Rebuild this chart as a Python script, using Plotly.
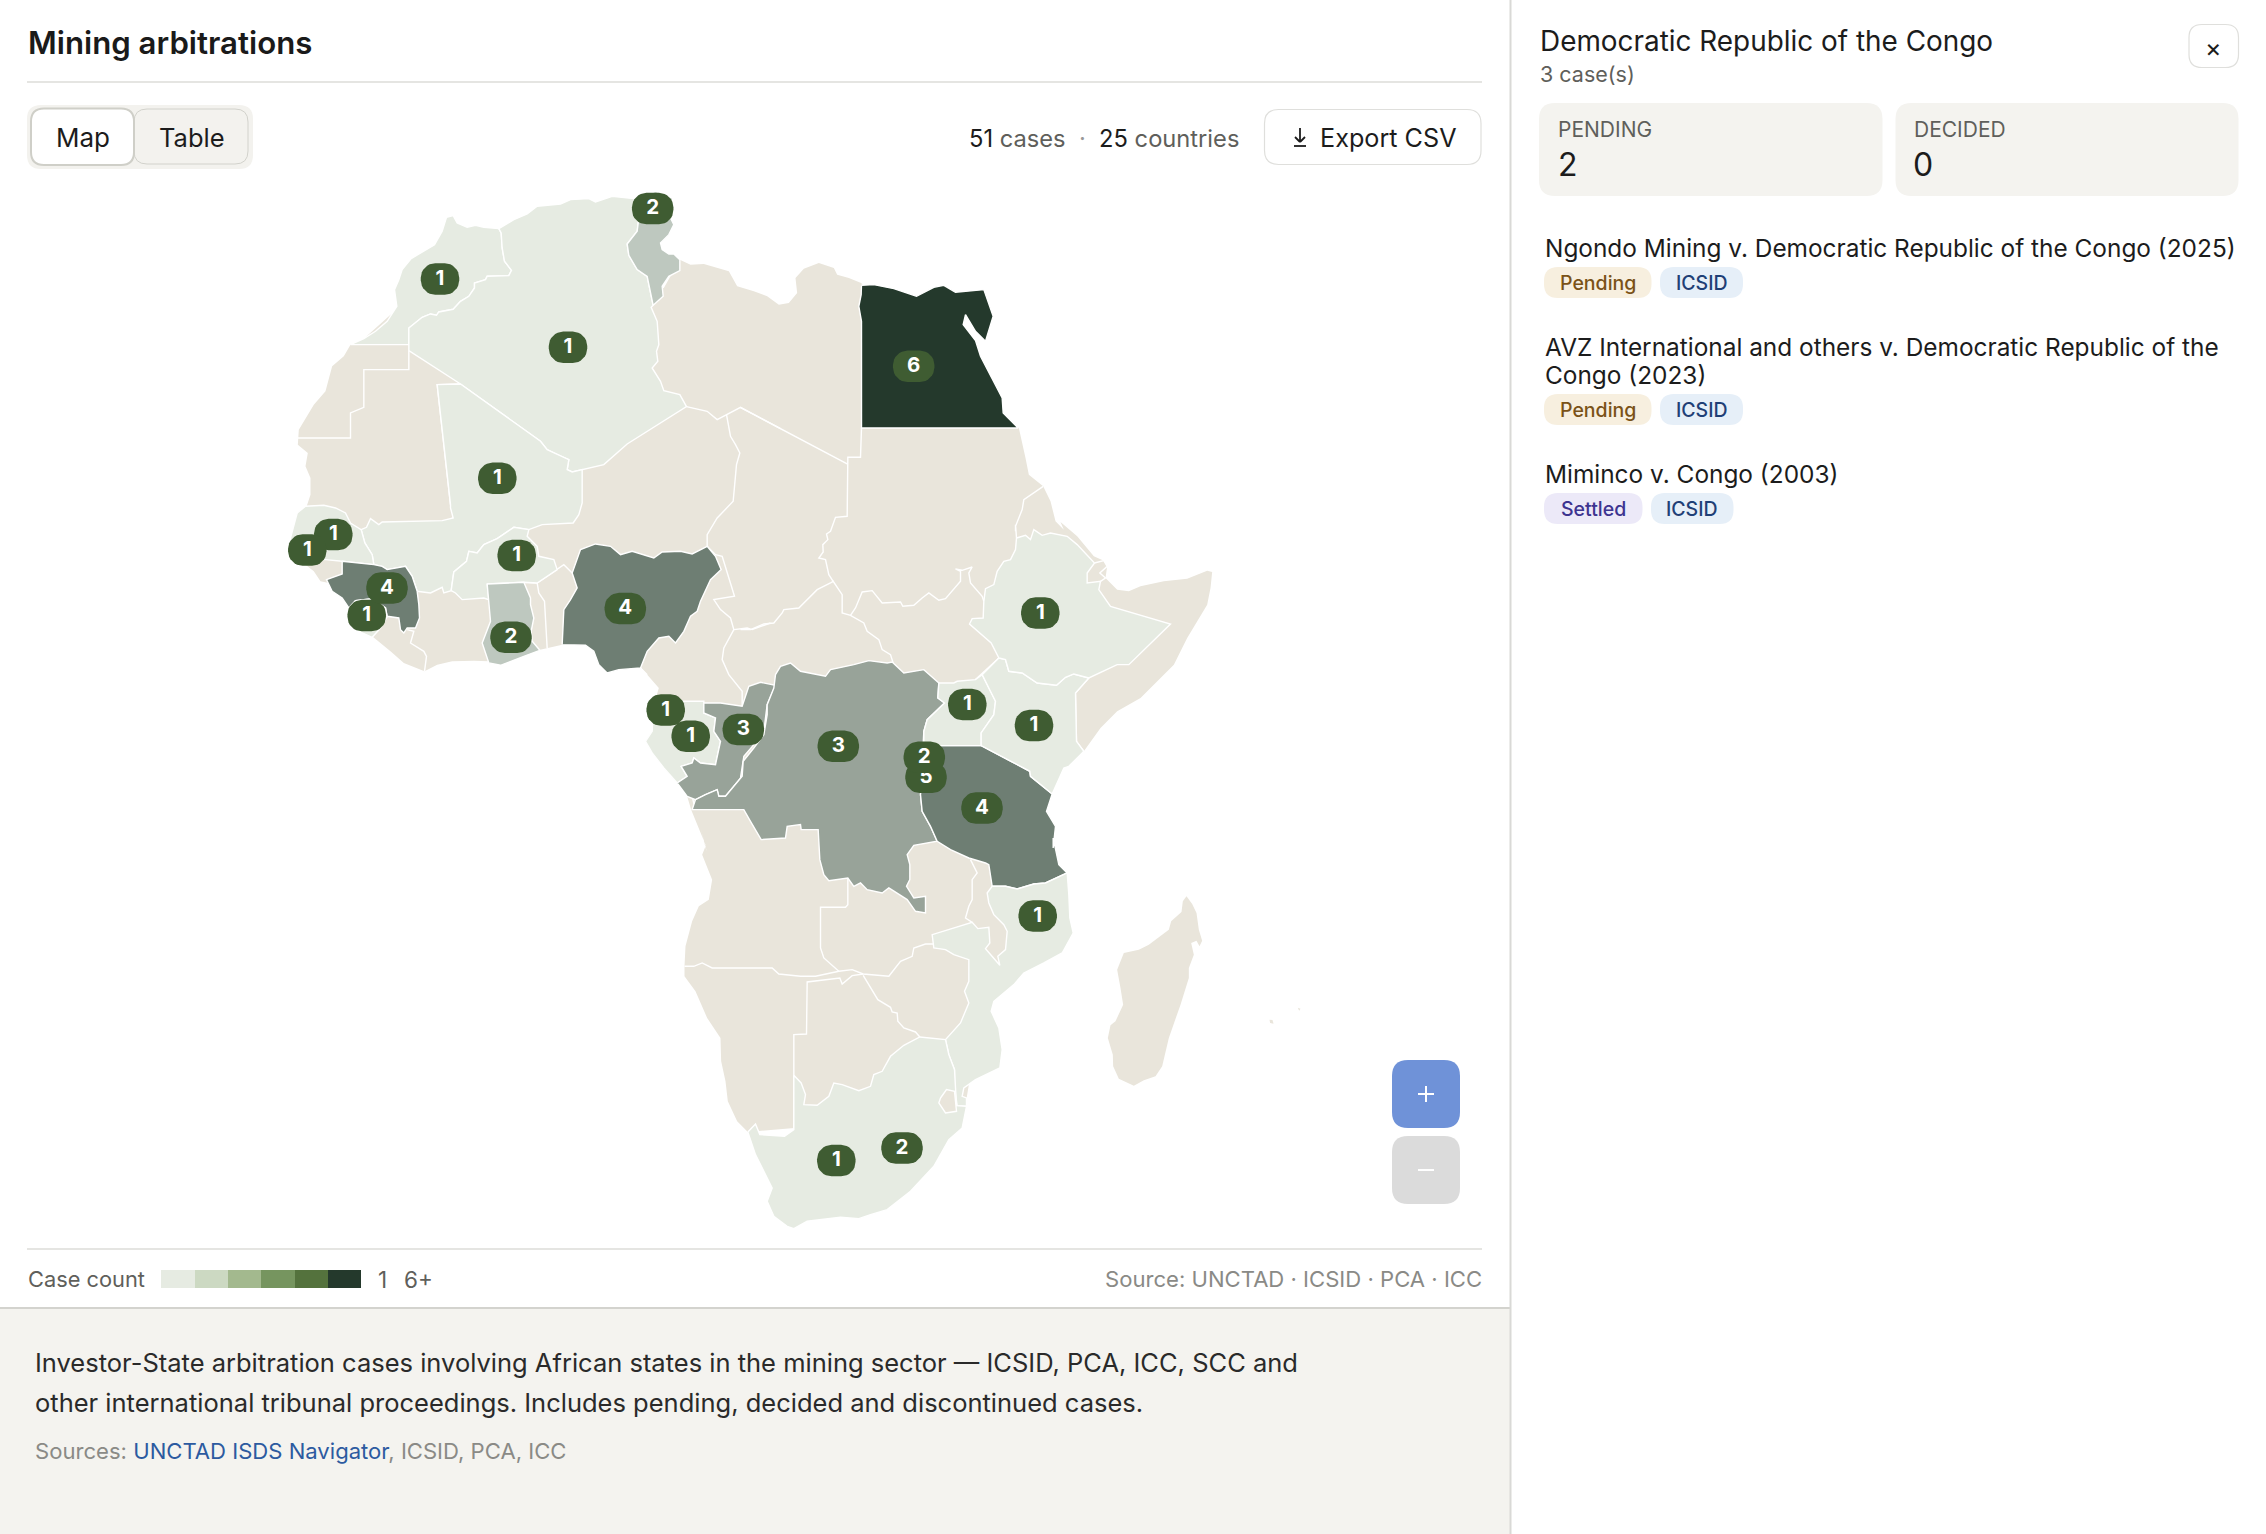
import math
import plotly.graph_objects as go

W, H = 2266, 1534
FONT = "Inter"

# ---- map digitising sheets (origin of each traced sheet, scale 3 units per page unit)
S1, S2, S3, S4, S5, S6 = (280.5, 181.3), (640.5, 181.3), (270.5, 501.3), (740.5, 501.3), (640.5, 821.3), (1080.5, 881.3)

def on(sheet, pts):
    return [(sheet[0] + a / 3, sheet[1] + b / 3) for a, b in pts]

# ---- colours by case count
BEIGE = "#E9E5DB"
C1, C2, C3, C4, C6 = "#E6EBE2", "#BEC8BF", "#98A399", "#6E7E73", "#24392C"
LEGEND_COLORS = ["#E6EBE2", "#CCD9C2", "#A3B98E", "#76955F", "#54723D", "#24392C"]
BADGE = "#3F5C32"

# ---- continent and island outlines
AFRICA = (
    on(S1, [(330, 400), (250, 472), (210, 490), (190, 525), (155, 555), (135, 630), (100, 670), (55, 745), (52, 790),
            (82, 815), (75, 855), (90, 890), (90, 940), (75, 985)])
    + on(S3, [(150, 60), (140, 170), (105, 190), (130, 210), (150, 240), (200, 250), (280, 340), (305, 405), (360, 450),
              (400, 485), (462, 510), (500, 490), (545, 480), (610, 478), (655, 480), (700, 470), (808, 447),
              (875, 430), (945, 428), (1000, 470), (1110, 497), (1130, 520), (1165, 560), (1150, 610), (1200, 700),
              (1230, 800), (1250, 885), (1262, 925), (1305, 1030), (1308, 1050)])
    + on(S5, [(180, 20), (195, 75), (185, 100), (215, 175), (205, 235), (175, 255), (155, 300), (135, 375), (132, 435),
              (132, 465), (165, 510), (200, 590), (240, 650), (242, 720), (255, 780), (262, 840), (290, 900),
              (322, 932), (700, 900), (975, 850), (1000, 700), (1030, 520), (1150, 400), (1230, 300), (1180, 120)])
    + on(S4, [(880, 800), (1030, 750), (1080, 680), (1130, 630), (1200, 590), (1300, 490), (1340, 410), (1400, 310),
              (1410, 260), (1415, 212), (1400, 208), (1340, 232), (1270, 240), (1200, 255), (1165, 270), (1130, 265),
              (1095, 230), (1100, 195), (1090, 178), (1060, 165), (1010, 105), (960, 62)])
    + on(S2, [(1270, 1045), (1245, 1020), (1230, 960), (1208, 915), (1165, 880), (1155, 830), (1145, 780), (1135, 740),
              (900, 600), (662, 305), (625, 290), (590, 280), (580, 260), (535, 245), (490, 262), (465, 290), (470, 335),
              (445, 365), (415, 370), (380, 345), (340, 330), (290, 315), (265, 270), (190, 248), (150, 250), (118, 235)])
    + on(S1, [(1150, 320), (800, 400)])
)
MADAGASCAR = on(S6, [(318, 45), (335, 68), (348, 95), (355, 145), (365, 178), (357, 195), (348, 178), (332, 185), (340, 220),
                     (325, 260), (325, 290), (300, 370), (265, 470), (245, 555), (225, 585), (190, 597), (160, 613), (140, 603),
                     (115, 592), (98, 555), (97, 520), (82, 470), (90, 432), (105, 420), (128, 370), (120, 320), (110, 265),
                     (130, 215), (175, 205), (205, 190), (265, 145), (272, 120), (303, 92), (307, 60)])
MAURITIUS = on(S6, [(567, 415), (576, 416), (579, 427), (569, 425)])
REUNION_DOT = on(S6, [(652, 379), (660, 382), (656, 388)])

# ---- countries with cases
MOROCCO = on(S1, [(655, 142), (610, 138), (585, 132), (560, 138), (530, 125), (518, 103), (498, 108), (485, 150), (462, 190),
                  (430, 210), (392, 232), (365, 265), (355, 295), (342, 325), (345, 350), (349, 375), (320, 420), (285, 450),
                  (250, 472), (210, 490), (385, 490), (385, 440), (425, 408), (450, 398), (468, 402), (475, 392), (518, 384),
                  (540, 360), (565, 345), (582, 320), (582, 305), (615, 295), (620, 285), (685, 283), (693, 267), (672, 240),
                  (665, 200), (662, 155)])
ALGERIA = on(S1, [(655, 142), (700, 115), (740, 98), (770, 75), (840, 68), (870, 55), (925, 52), (945, 62), (995, 45), (1020, 48),
                  (1060, 52), (1075, 110), (1070, 150), (1040, 188), (1045, 222), (1070, 265), (1100, 285), (1118, 372), (1112, 378),
                  (1130, 420), (1135, 490), (1128, 510), (1132, 540), (1115, 560), (1140, 600), (1150, 628), (1198, 640), (1218, 676),
                  (1040, 788), (970, 850), (905, 865), (875, 872), (860, 865), (865, 835), (830, 820), (800, 805), (780, 780),
                  (540, 608), (385, 508), (385, 440), (425, 408), (450, 398), (468, 402), (475, 392), (518, 384), (540, 360),
                  (565, 345), (582, 320), (582, 305), (615, 295), (620, 285), (685, 283), (693, 267), (672, 240), (665, 200), (662, 155)])
TUNISIA = on(S1, [(1060, 52), (1100, 40), (1125, 30), (1175, 50), (1170, 110), (1180, 130), (1165, 160), (1140, 185), (1145, 205),
                  (1165, 218), (1180, 218), (1198, 235), (1198, 268), (1165, 285), (1145, 315), (1148, 345), (1118, 372), (1100, 285),
                  (1070, 265), (1045, 222), (1040, 188), (1070, 150), (1075, 110)])
EGYPT = on(S2, [(663, 312), (700, 310), (760, 322), (828, 345), (880, 318), (910, 312), (945, 333), (1030, 325), (1058, 405), (1035, 480),
                (1005, 450), (975, 400), (968, 430), (1005, 478), (1020, 525), (1085, 650), (1088, 695), (1133, 740), (663, 740), (663, 420),
                (655, 375), (662, 340)])
MALI = (on(S1, [(540, 608), (780, 780), (800, 805), (830, 820), (865, 835), (860, 865), (875, 872), (905, 865), (905, 965), (895, 1000), (878, 1025)])
        + on(S3, [(815, 70), (775, 85), (730, 78), (680, 112), (640, 130), (620, 155), (595, 150), (588, 180), (550, 212), (542, 268),
                  (520, 275), (515, 258), (480, 275), (440, 270), (425, 225), (405, 195), (350, 205), (335, 195), (310, 190), (305, 160),
                  (283, 125), (272, 85), (288, 78), (300, 52), (325, 70), (335, 62), (515, 58), (548, 50), (540, 20)])
        + on(S1, [(510, 970), (470, 610)]))
SENEGAL = on(S3, [(80, 35), (105, 15), (160, 12), (195, 20), (225, 35), (240, 65), (272, 85), (283, 125), (305, 160), (310, 190), (215, 180),
                  (165, 175), (110, 175), (60, 150), (60, 110)])
GUINEA = on(S3, [(215, 180), (310, 190), (335, 195), (350, 205), (405, 195), (425, 225), (440, 270), (445, 310), (447, 350), (435, 380),
                 (410, 380), (400, 395), (390, 385), (385, 350), (350, 345), (345, 320), (305, 292), (255, 298), (235, 320), (215, 290),
                 (185, 270), (168, 235), (215, 218)])
SIERRA_LEONE = on(S3, [(235, 320), (255, 298), (305, 292), (345, 320), (350, 347), (330, 380), (305, 408), (265, 390), (240, 365)])
BURKINA = on(S3, [(542, 268), (550, 212), (588, 180), (595, 150), (620, 155), (640, 130), (680, 112), (730, 78), (775, 85), (770, 105),
                  (800, 135), (805, 165), (850, 175), (860, 205), (830, 225), (800, 245), (760, 243), (650, 248), (655, 295), (640, 290),
                  (575, 295), (555, 275)])
GHANA = on(S3, [(650, 248), (760, 243), (780, 290), (780, 310), (790, 350), (782, 390), (785, 420), (808, 447), (760, 465), (690, 492),
                (655, 485), (635, 425), (660, 360), (655, 295)])
NIGERIA = on(S3, [(875, 430), (880, 325), (900, 295), (920, 260), (905, 215), (930, 145), (975, 128), (1020, 135), (1050, 160), (1085, 150),
                  (1150, 170), (1175, 152), (1230, 150), (1265, 158), (1310, 135), (1335, 165), (1352, 205), (1320, 235), (1290, 300),
                  (1280, 330), (1260, 345), (1240, 390), (1215, 425), (1195, 405), (1165, 410), (1130, 450), (1110, 500), (1045, 505),
                  (1010, 515), (985, 490), (970, 450), (945, 432)])
GABON = on(S3, [(1150, 600), (1240, 600), (1300, 600), (1300, 635), (1335, 650), (1330, 690), (1350, 720), (1335, 790), (1290, 785), (1270, 770),
                (1265, 785), (1232, 795), (1250, 825), (1220, 845), (1180, 800), (1145, 755), (1125, 720), (1145, 690)])
CONGO = (on(S3, [(1220, 845), (1250, 825), (1232, 795), (1265, 785), (1270, 770), (1290, 785), (1335, 790), (1350, 720), (1330, 690), (1335, 650),
                 (1300, 635), (1300, 605), (1350, 605), (1415, 615), (1435, 555), (1460, 545)])
         + on(S4, [(60, 543), (105, 552), (80, 610), (70, 690), (40, 730), (10, 765), (0, 830)])
         + on(S3, [(1415, 825), (1365, 885), (1345, 885), (1340, 865), (1305, 880), (1275, 895), (1250, 885)]))
DRC = (on(S4, [(105, 520), (120, 495), (150, 485), (180, 510), (255, 525), (270, 505), (340, 490), (385, 478), (440, 485), (455, 482), (490, 515),
               (550, 505), (595, 545), (592, 590), (612, 605), (560, 655), (550, 690), (548, 730), (540, 880), (545, 930), (570, 975), (590, 1020)])
       + on(S5, [(820, 72), (800, 100), (808, 130), (808, 175), (798, 195), (820, 230), (855, 225), (855, 275), (825, 270), (800, 235), (745, 200),
                 (725, 215), (680, 205), (660, 185), (640, 195), (622, 170), (565, 178), (550, 160), (538, 115), (533, 25), (482, 25), (480, 10),
                 (440, 15), (435, 50), (362, 55), (330, 0)])
       + on(S3, [(1420, 925), (1265, 925), (1275, 895), (1305, 880), (1340, 865), (1345, 885), (1365, 885), (1415, 825), (1418, 780), (1450, 740),
                 (1480, 700), (1490, 640)])
       + on(S4, [(80, 610), (100, 560)]))
TANZANIA = (on(S4, [(600, 733), (722, 733), (868, 810), (870, 825), (935, 878), (918, 930), (945, 975), (938, 1040)])
            + on(S5, [(1238, 50), (1245, 80), (1255, 130), (1280, 155), (1215, 185), (1180, 188), (1130, 203), (1095, 195), (1055, 195), (1045, 130),
                      (1035, 125), (985, 110), (930, 85), (890, 60)])
            + on(S4, [(570, 975), (545, 930), (540, 880), (548, 790)]))
UGANDA = on(S4, [(595, 545), (640, 545), (650, 540), (705, 535), (725, 520), (745, 560), (765, 600), (760, 640), (722, 695), (722, 733), (600, 733),
                 (550, 728), (550, 690), (560, 655), (612, 605), (592, 590)])
KENYA = on(S4, [(775, 470), (795, 475), (805, 510), (845, 515), (890, 545), (948, 552), (975, 528), (1000, 518), (1045, 530), (1005, 575), (1008, 720),
                (1030, 750), (1020, 760), (985, 795), (970, 800), (935, 878), (870, 825), (868, 810), (722, 733), (722, 695), (760, 640), (765, 600),
                (745, 560), (725, 520)])
ETHIOPIA = on(S4, [(828, 110), (855, 102), (870, 115), (880, 85), (905, 102), (930, 95), (980, 105), (1010, 130), (1062, 185), (1040, 215), (1040, 245),
                   (1080, 240), (1075, 265), (1110, 315), (1290, 368), (1165, 490), (1130, 490), (1085, 510), (1045, 530), (1000, 518), (975, 528),
                   (948, 552), (890, 545), (845, 515), (805, 510), (795, 475), (775, 470), (752, 425), (705, 385), (687, 368), (695, 352), (728, 350),
                   (730, 300), (735, 262), (760, 250), (770, 210), (790, 180), (810, 175), (825, 145)])
MOZAMBIQUE = on(S5, [(1280, 155), (1285, 220), (1288, 290), (1298, 335), (1265, 395), (1210, 425), (1150, 455), (1120, 490), (1060, 540), (1052, 570),
                     (1075, 620), (1085, 685), (1078, 740), (1005, 775), (970, 800), (965, 825), (978, 830), (978, 855), (950, 853), (942, 800), (942, 745),
                     (925, 700), (915, 655), (960, 605), (985, 545), (972, 510), (985, 480), (985, 415), (940, 400), (915, 385), (880, 380), (875, 340),
                     (995, 303), (1012, 322), (1045, 318), (1048, 365), (1035, 382), (1078, 432), (1072, 405), (1095, 385), (1100, 330), (1090, 310),
                     (1060, 280), (1045, 245), (1040, 215), (1055, 195), (1095, 195), (1130, 203), (1180, 188), (1215, 185)])
SOUTH_AFRICA = on(S5, [(322, 932), (345, 908), (358, 940), (432, 945), (460, 925), (460, 762), (482, 785), (495, 820), (490, 850), (530, 852), (565, 825),
                       (580, 785), (605, 790), (655, 808), (690, 795), (700, 760), (725, 750), (750, 705), (790, 672), (838, 647), (915, 655), (925, 700),
                       (942, 745), (948, 853), (978, 855), (965, 920), (925, 955), (880, 1035), (810, 1110), (740, 1165), (690, 1180), (655, 1192), (600, 1188),
                       (545, 1195), (500, 1200), (460, 1222), (440, 1215), (400, 1185), (380, 1140), (395, 1100), (345, 1000)])
ESWATINI = on(S5, [(900, 830), (918, 805), (942, 810), (948, 870), (915, 875), (895, 845)])

COUNTRIES = [
    ("Morocco", MOROCCO, C1), ("Algeria", ALGERIA, C1), ("Tunisia", TUNISIA, C2), ("Egypt", EGYPT, C6),
    ("Mali", MALI, C1), ("Senegal", SENEGAL, C1), ("Guinea", GUINEA, C4), ("Sierra Leone", SIERRA_LEONE, C1),
    ("Burkina Faso", BURKINA, C1), ("Ghana", GHANA, C2), ("Nigeria", NIGERIA, C4), ("Gabon", GABON, C1),
    ("Congo", CONGO, C3), ("DR Congo", DRC, C3), ("Tanzania", TANZANIA, C4), ("Uganda", UGANDA, C1),
    ("Kenya", KENYA, C1), ("Ethiopia", ETHIOPIA, C1), ("Mozambique", MOZAMBIQUE, C1), ("South Africa", SOUTH_AFRICA, C1),
    ("Eswatini", ESWATINI, BEIGE),
]

# ---- borders between countries without cases
BORDERS = [
    on(S1, [(385, 508), (385, 565), (250, 565), (250, 678), (210, 695), (210, 770), (52, 770)]),
    on(S1, [(540, 608), (470, 610), (510, 970), (520, 985), (515, 1018)]),
    on(S1, [(1218, 676), (1280, 690), (1310, 715), (1380, 678), (1500, 742)]),
    on(S1, [(1338, 700), (1350, 765), (1365, 790), (1378, 815), (1368, 850), (1358, 960), (1310, 1010), (1285, 1050)]) + on(S3, [(1310, 100), (1310, 135)]),
    on(S2, [(299, 678), (620, 848)]),
    on(S2, [(663, 740), (660, 828), (622, 828), (620, 1005), (585, 1008), (570, 1050)]) + on(S4, [(258, 98), (262, 115), (247, 130), (248, 152), (235, 170), (255, 175), (265, 220), (278, 240)]),
    on(S4, [(0, 385), (30, 385), (70, 368), (100, 365), (125, 335), (130, 325), (175, 320), (230, 265), (270, 245), (278, 240), (305, 280), (305, 335), (330, 342),
            (370, 365), (380, 390), (415, 415), (425, 445), (450, 460), (458, 485)]),
    on(S4, [(330, 342), (345, 320), (365, 272), (395, 268), (425, 305), (480, 302), (487, 315), (520, 312), (545, 290), (565, 275), (595, 297), (615, 292), (660, 240),
            (660, 210), (645, 203), (665, 207), (695, 197), (685, 215), (690, 245), (725, 285), (730, 300)]),
    on(S4, [(705, 535), (775, 470)]),
    on(S2, [(1208, 915), (1185, 930), (1150, 955), (1145, 985), (1125, 1035), (1125, 1050)]) + on(S4, [(825, 70), (828, 110)]),
    on(S4, [(1062, 185), (1090, 178), (1100, 195), (1078, 215), (1095, 230), (1080, 240)]),
    on(S4, [(1045, 530), (1005, 575), (1008, 720), (1030, 750)]),
    on(S3, [(1310, 135), (1335, 160), (1355, 165), (1375, 230), (1392, 285), (1330, 295), (1350, 325), (1380, 350), (1390, 385), (1360, 440), (1355, 475), (1375, 520), (1415, 570), (1415, 615)]),
    on(S3, [(1390, 385), (1430, 380), (1445, 385), (1500, 365)]),
    on(S3, [(1110, 500), (1130, 520)]),
    on(S3, [(410, 385), (430, 390), (420, 425), (460, 450), (468, 465), (462, 510)]),
    on(S3, [(760, 243), (800, 245), (805, 275), (822, 300), (830, 440)]),
    on(S3, [(800, 245), (830, 225), (860, 205), (880, 190), (905, 215)]),
    on(S3, [(1265, 885), (1272, 915), (1268, 925)]),
    on(S5, [(622, 170), (622, 250), (615, 258), (540, 258), (540, 380), (550, 410), (595, 450)]),
    on(S5, [(132, 435), (160, 435), (185, 425), (215, 440), (395, 440), (415, 458), (480, 465), (525, 465), (595, 450), (635, 445), (668, 458), (745, 465), (780, 420), (815, 405), (820, 380), (855, 368), (880, 368)]),
    on(S5, [(668, 458), (635, 463), (605, 488), (598, 470), (500, 482), (498, 638), (460, 640), (460, 925)]),
    on(S5, [(668, 462), (712, 535), (750, 558), (755, 572), (770, 575), (772, 600), (790, 620), (825, 632), (838, 647)]),
    on(S5, [(990, 115), (1010, 155), (995, 175), (995, 235), (985, 255), (975, 290), (995, 303)]),
]

# ---- case-count badges, painted in this order
BADGE_LABELS = ["1", "1", "2", "1", "6", "1", "1", "1", "4", "1", "2", "4", "1", "1", "3", "3", "5", "2", "4", "1", "1", "1", "1", "1", "2"]
BADGE_X = [440, 568, 652.7, 497.3, 913.7, 333.3, 307.3, 366.7, 387, 516.7, 511, 625.3, 665.7, 690.7, 743.3, 838.3, 926, 924.3, 982, 967.3, 1034, 1040.3, 1037.7, 836.3, 902]
BADGE_Y = [279, 347.3, 208.6, 478.3, 366.3, 534.6, 550, 615.6, 588, 555.6, 637.3, 608.6, 710, 736.3, 729.6, 746.3, 777.3, 757.3, 808, 704.6, 725.6, 613, 916, 1160.6, 1148]

def closed(pts):
    xs = [p[0] for p in pts] + [pts[0][0]]
    ys = [p[1] for p in pts] + [pts[0][1]]
    return xs, ys

def pill(cx, cy, w, h, r):
    """Rounded outline around a badge centre."""
    pts = []
    corners = [(cx + w / 2 - r, cy - h / 2 + r, -90), (cx + w / 2 - r, cy + h / 2 - r, 0),
               (cx - w / 2 + r, cy + h / 2 - r, 90), (cx - w / 2 + r, cy - h / 2 + r, 180)]
    for ox, oy, a0 in corners:
        for k in range(9):
            a = math.radians(a0 + k * 90 / 8)
            pts.append((ox + r * math.cos(a), oy + r * math.sin(a)))
    return pts

def rrect(x0, y0, x1, y1, r):
    return (f"M{x0+r},{y0} L{x1-r},{y0} Q{x1},{y0} {x1},{y0+r} L{x1},{y1-r} Q{x1},{y1} {x1-r},{y1} "
            f"L{x0+r},{y1} Q{x0},{y1} {x0},{y1-r} L{x0},{y0+r} Q{x0},{y0} {x0+r},{y0} Z")

fig = go.Figure()

def poly(pts, color, name, lw=1.4):
    xs, ys = closed(pts)
    fig.add_trace(go.Scatter(x=xs, y=ys, mode="lines", fill="toself", fillcolor=color, name=name,
                             line=dict(color="white", width=lw), hoverinfo="name", showlegend=False))

poly(AFRICA, BEIGE, "Africa", 0)
poly(MADAGASCAR, BEIGE, "Madagascar", 0)
poly(MAURITIUS, BEIGE, "Mauritius", 0)
poly(REUNION_DOT, BEIGE, "Seychelles", 0)
for b in BORDERS:
    fig.add_trace(go.Scatter(x=[p[0] for p in b], y=[p[1] for p in b], mode="lines", line=dict(color="white", width=1.4),
                             hoverinfo="skip", showlegend=False))
for name, pts, col in COUNTRIES:
    poly(pts, col, name)

for lab, bx, by in zip(BADGE_LABELS, BADGE_X, BADGE_Y):
    w = 38.5 if lab == "1" else 41.5
    xs, ys = closed(pill(bx, by, w, 31.5, 14.5))
    fig.add_trace(go.Scatter(x=xs, y=ys, mode="lines", fill="toself", fillcolor=BADGE, line=dict(color=BADGE, width=0),
                             hoverinfo="skip", showlegend=False))
    fig.add_trace(go.Scatter(x=[bx], y=[by + 0.5], mode="text", text=[f"<b>{lab}</b>"], textposition="middle center",
                             textfont=dict(family=FONT, size=20.5, color="white"), hoverinfo="skip", showlegend=False))

# ---- page furniture
shapes = []
def rect(x0, y0, x1, y1, fill, r=0, line=None, lw=1):
    shapes.append(dict(type="path", path=rrect(x0, y0, x1, y1, r) if r else f"M{x0},{y0} L{x1},{y0} L{x1},{y1} L{x0},{y1} Z",
                       xref="x", yref="y", fillcolor=fill, layer="below",
                       line=dict(color=line or fill, width=lw if line else 0)))
def seg(x0, y0, x1, y1, color, lw=1, layer="below"):
    shapes.append(dict(type="line", x0=x0, y0=y0, x1=x1, y1=y1, xref="x", yref="y", layer=layer, line=dict(color=color, width=lw)))

rect(0, 1308, 1510, H, "#F4F3EF")
seg(0, 1308, 1510, 1308, "#D3D3CE", 2)
seg(1510.5, 0, 1510.5, H, "#D9D9D6", 2)
seg(27, 82, 1482, 82, "#DCDCD9", 1.5)
seg(27, 1249, 1482, 1249, "#DCDCD9", 1.5)

rect(27, 105, 253, 169, "#F3F2EE", 14)
rect(134, 109, 248, 164, "#F3F2EE", 13, "#D2D2CC", 1)
rect(31, 108.5, 134, 165, "#FFFFFF", 13, "#CFCFC8", 2)
rect(1264.5, 109.5, 1481, 164.5, "#FFFFFF", 14, "#DFDFDC", 1.2)
seg(1300, 128, 1300, 141, "#1C1C1C", 1.8)
seg(1295, 137, 1300, 142, "#1C1C1C", 1.8)
seg(1305, 137, 1300, 142, "#1C1C1C", 1.8)
seg(1294, 146, 1306, 146, "#1C1C1C", 1.8)

LEGEND_EDGES = [161, 195, 228, 261, 295, 328, 361]
for i, c in enumerate(LEGEND_COLORS):
    rect(LEGEND_EDGES[i], 1270, LEGEND_EDGES[i + 1], 1288, c)

rect(1392, 1060, 1460, 1128, "#6F92D8", 16)
rect(1392, 1136, 1460, 1204, "#DBDBDB", 16)
seg(1418, 1094, 1434, 1094, "white", 2, "above")
seg(1426, 1086, 1426, 1102, "white", 2, "above")
seg(1418, 1170, 1434, 1170, "white", 2, "above")

rect(2189, 24.5, 2238.5, 67.5, "#FFFFFF", 13, "#DFDFDC", 1.2)
rect(1539, 103, 1882.5, 196, "#F4F3EF", 16)
rect(1895.5, 103, 2238.5, 196, "#F4F3EF", 16)

PILLS = [
    (1544, 267, 1651.5, 298, "#F7EFDF", "Pending", "#7A5217"),
    (1660, 267, 1743, 298, "#E6EFF8", "ICSID", "#1F3F76"),
    (1544, 394, 1651.5, 425, "#F7EFDF", "Pending", "#7A5217"),
    (1660, 394, 1743, 425, "#E6EFF8", "ICSID", "#1F3F76"),
    (1544, 493, 1642.5, 524, "#ECE9F8", "Settled", "#3D3490"),
    (1651, 493, 1733.5, 524, "#E6EFF8", "ICSID", "#1F3F76"),
]
anns = []
def txt(x, y, s, size, color="#1C1C1C", anchor="left", weight=None):
    f = dict(family=FONT, size=size, color=color)
    if weight:
        f["weight"] = weight
    anns.append(dict(x=x, y=y, xref="x", yref="y", text=s, showarrow=False, xanchor=anchor, yanchor="middle", font=f, borderpad=0, align=anchor))

for x0, y0, x1, y1, fill, s, col in PILLS:
    rect(x0, y0, x1, y1, fill, 14)
    txt((x0 + x1) / 2, (y0 + y1) / 2, s, 19.5, col, "center", 500)

GREY = "#5F5F5B"
txt(27, 43, "Mining arbitrations", 31.2, "#1A1A1A", "left", 600)
txt(82.5, 137.5, "Map", 26, "#1C1C1C", "center")
txt(191.5, 137.5, "Table", 25.5, "#1C1C1C", "center")
txt(1240, 138, f'51<span style="color:{GREY}"> cases </span><span style="color:#999"> · </span> 25<span style="color:{GREY}"> countries</span>', 23.7, "#1C1C1C", "right")
txt(1319, 138, "Export CSV", 25.2, "#1C1C1C")
txt(27, 1279, "Case count", 21.8, GREY)
txt(377, 1279, "1", 22.5, GREY)
txt(403, 1279, "6+", 22.5, GREY)
txt(1482.5, 1279, "Source: UNCTAD · ICSID · PCA · ICC", 22.1, "#8A8A86", "right")
txt(34, 1362, "Investor-State arbitration cases involving African states in the mining sector — ICSID, PCA, ICC, SCC and", 25.5, "#2A2A2A")
txt(34, 1402, "other international tribunal proceedings. Includes pending, decided and discontinued cases.", 25.5, "#2A2A2A")
txt(34, 1451, 'Sources: <span style="color:#2C5AA0">UNCTAD ISDS Navigator</span>, ICSID, PCA, ICC', 22.1, "#8A8A86")
txt(1538.5, 41, "Democratic Republic of the Congo", 27.9, "#1C1C1C")
txt(1538.5, 74, "3 case(s)", 21.5, GREY)
txt(2213.5, 48, "×", 25, "#1C1C1C", "center")
txt(1556.5, 129, "PENDING", 21, GREY)
txt(1557, 164, "2", 32, "#1C1C1C")
txt(1912.5, 129, "DECIDED", 21, GREY)
txt(1912, 164, "0", 32, "#1C1C1C")
txt(1543.5, 247.5, "Ngondo Mining v. Democratic Republic of the Congo (2025)", 24.4, "#1C1C1C")
txt(1543.5, 346.5, "AVZ International and others v. Democratic Republic of the", 24.4, "#1C1C1C")
txt(1543.5, 374.5, "Congo (2023)", 24.4, "#1C1C1C")
txt(1543.5, 473.5, "Miminco v. Congo (2003)", 24.4, "#1C1C1C")

fig.update_layout(
    width=W, height=H, autosize=False, margin=dict(l=0, r=0, t=0, b=0, pad=0),
    paper_bgcolor="white", plot_bgcolor="rgba(0,0,0,0)", showlegend=False,
    xaxis=dict(range=[0, W], visible=False, fixedrange=True),
    yaxis=dict(range=[H, 0], visible=False, fixedrange=True),
    shapes=shapes, annotations=anns, font=dict(family=FONT),
)
fig.write_html("out.html", config={"displayModeBar": False},
               post_script="document.body.style.margin='0';document.documentElement.style.overflow='hidden';")
